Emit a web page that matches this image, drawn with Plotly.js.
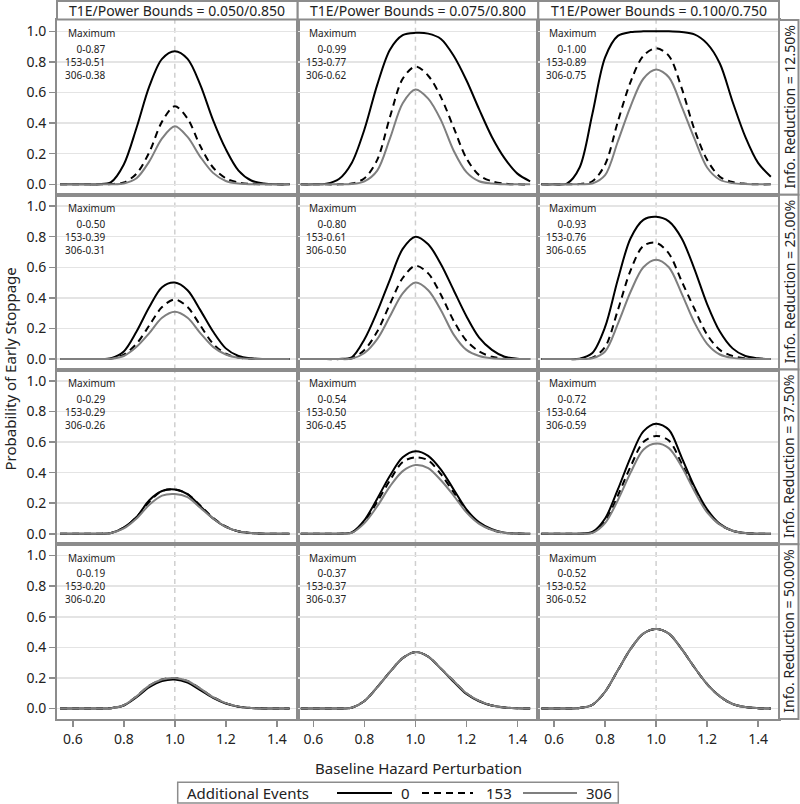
<!DOCTYPE html>
<html>
<head>
<meta charset="utf-8">
<script src="https://cdn.plot.ly/plotly-3.0.1.min.js"></script>
<style>html,body{margin:0;padding:0;background:#fff;}#chart{width:800px;height:804px;}</style>
</head>
<body>
<div id="chart"></div>
<script>
// ---- data ----
const perturbation = [0.55,0.60,0.65,0.70,0.75,0.80,0.85,0.90,0.95,1.00,1.05,1.10,1.15,1.20,1.25,1.30,1.35,1.40,1.45];

const boundsLabels = ['0.050/0.850','0.075/0.800','0.100/0.750'];
const reductionLabels = ['12.50%','25.00%','37.50%','50.00%'];
const eventLabels = ['0','153','306'];

const xTickVals = [0.6,0.8,1.0,1.2,1.4];
const xTickText = ['0.6','0.8','1.0','1.2','1.4'];
const yTickVals = [0,0.2,0.4,0.6,0.8,1.0];
const yTickText = ['0.0','0.2','0.4','0.6','0.8','1.0'];

// Row 1: info reduction 12.50%
const r1c1_0   = [0,0,0,0.001,0.015,0.13,0.37,0.64,0.82,0.87,0.82,0.65,0.42,0.23,0.09,0.025,0.005,0,0];
const r1c1_153 = [0,0,0,0,0.002,0.012,0.07,0.21,0.41,0.51,0.43,0.25,0.11,0.04,0.012,0.003,0,0,0];
const r1c1_306 = [0,0,0,0,0.001,0.006,0.04,0.15,0.30,0.38,0.31,0.18,0.075,0.022,0.005,0.001,0,0,0];
const r1c2_0   = [0,0,0.004,0.035,0.14,0.36,0.65,0.88,0.975,0.99,0.985,0.95,0.84,0.68,0.49,0.31,0.17,0.07,0.02];
const r1c2_153 = [0,0,0,0,0.005,0.04,0.16,0.44,0.69,0.77,0.71,0.57,0.37,0.17,0.06,0.02,0.005,0,0];
const r1c2_306 = [0,0,0,0,0.002,0.02,0.09,0.30,0.53,0.62,0.56,0.42,0.22,0.08,0.02,0.005,0,0,0];
const r1c3_0   = [0,0,0.005,0.11,0.46,0.83,0.97,0.995,1,1,1,0.995,0.98,0.92,0.79,0.54,0.31,0.14,0.05];
const r1c3_153 = [0,0,0,0.002,0.02,0.13,0.41,0.67,0.84,0.89,0.84,0.63,0.36,0.16,0.05,0.015,0.004,0,0];
const r1c3_306 = [0,0,0,0.001,0.006,0.06,0.28,0.51,0.69,0.75,0.70,0.51,0.30,0.11,0.03,0.008,0.002,0,0];
// Row 2: 25.00%
const r2c1_0   = [0,0,0,0.001,0.006,0.05,0.18,0.34,0.47,0.50,0.45,0.32,0.18,0.07,0.02,0.005,0.001,0,0];
const r2c1_153 = [0,0,0,0,0.003,0.03,0.10,0.22,0.34,0.39,0.34,0.22,0.10,0.035,0.01,0.002,0,0,0];
const r2c1_306 = [0,0,0,0,0.002,0.02,0.08,0.17,0.27,0.31,0.27,0.17,0.08,0.03,0.008,0.002,0,0,0];
const r2c2_0   = [0,0,0,0.001,0.012,0.13,0.31,0.52,0.72,0.80,0.75,0.62,0.45,0.28,0.14,0.06,0.015,0.003,0];
const r2c2_153 = [0,0,0,0,0.005,0.06,0.18,0.36,0.53,0.61,0.56,0.42,0.25,0.12,0.05,0.015,0.003,0,0];
const r2c2_306 = [0,0,0,0,0.003,0.04,0.13,0.28,0.43,0.50,0.45,0.32,0.16,0.06,0.02,0.005,0.001,0,0];
const r2c3_0   = [0,0,0,0.003,0.04,0.21,0.52,0.79,0.91,0.93,0.90,0.79,0.59,0.36,0.18,0.07,0.02,0.005,0];
const r2c3_153 = [0,0,0,0.001,0.01,0.08,0.32,0.58,0.74,0.76,0.69,0.51,0.33,0.16,0.06,0.02,0.005,0.001,0];
const r2c3_306 = [0,0,0,0,0.005,0.05,0.23,0.44,0.60,0.65,0.60,0.43,0.24,0.10,0.03,0.008,0.002,0,0];
// Row 3: 37.50%
const r3c1_0   = [0,0,0,0.001,0.006,0.04,0.11,0.22,0.28,0.29,0.26,0.18,0.10,0.045,0.015,0.005,0.001,0,0];
const r3c1_153 = [0,0,0,0.001,0.006,0.04,0.11,0.21,0.28,0.29,0.26,0.185,0.105,0.048,0.017,0.005,0.001,0,0];
const r3c1_306 = [0,0,0,0.001,0.005,0.035,0.10,0.19,0.25,0.26,0.24,0.17,0.10,0.045,0.016,0.005,0.001,0,0];
const r3c2_0   = [0,0,0,0.001,0.01,0.09,0.23,0.38,0.50,0.54,0.51,0.42,0.29,0.16,0.075,0.03,0.008,0.002,0];
const r3c2_153 = [0,0,0,0.001,0.008,0.08,0.21,0.35,0.47,0.50,0.48,0.39,0.27,0.15,0.07,0.025,0.007,0.002,0];
const r3c2_306 = [0,0,0,0.001,0.007,0.07,0.18,0.31,0.41,0.45,0.43,0.35,0.25,0.14,0.065,0.025,0.007,0.002,0];
const r3c3_0   = [0,0,0,0.001,0.012,0.10,0.29,0.50,0.67,0.72,0.68,0.50,0.31,0.16,0.065,0.02,0.005,0.001,0];
const r3c3_153 = [0,0,0,0.001,0.008,0.08,0.25,0.44,0.60,0.64,0.61,0.46,0.29,0.15,0.06,0.02,0.005,0.001,0];
const r3c3_306 = [0,0,0,0.001,0.006,0.07,0.22,0.40,0.55,0.59,0.56,0.44,0.28,0.14,0.06,0.02,0.005,0.001,0];
// Row 4: 50.00%
const r4c1_0   = [0,0,0,0.001,0.003,0.02,0.075,0.14,0.18,0.19,0.17,0.12,0.07,0.033,0.012,0.004,0.001,0,0];
const r4c1_153 = [0,0,0,0.001,0.003,0.022,0.08,0.15,0.19,0.20,0.18,0.13,0.075,0.036,0.013,0.004,0.001,0,0];
const r4c1_306 = [0,0,0,0.001,0.003,0.022,0.08,0.15,0.19,0.20,0.18,0.13,0.075,0.036,0.013,0.004,0.001,0,0];
const r4c2_0   = [0,0,0,0.001,0.006,0.05,0.14,0.24,0.33,0.37,0.34,0.26,0.175,0.095,0.048,0.02,0.007,0.002,0];
const r4c2_153 = [0,0,0,0.001,0.006,0.05,0.14,0.24,0.33,0.37,0.34,0.26,0.18,0.10,0.05,0.02,0.007,0.002,0];
const r4c2_306 = [0,0,0,0.001,0.006,0.05,0.14,0.24,0.33,0.37,0.34,0.26,0.18,0.10,0.05,0.02,0.007,0.002,0];
const r4c3_0   = [0,0,0.001,0.004,0.025,0.11,0.25,0.39,0.49,0.52,0.49,0.39,0.27,0.16,0.08,0.03,0.01,0.003,0];
const r4c3_153 = [0,0,0.001,0.004,0.025,0.11,0.25,0.39,0.49,0.52,0.49,0.39,0.27,0.16,0.08,0.03,0.01,0.003,0];
const r4c3_306 = [0,0,0.001,0.004,0.025,0.11,0.25,0.39,0.49,0.52,0.49,0.39,0.27,0.16,0.08,0.03,0.01,0.003,0];

// maxima shown in each panel (row-major order)
const maxima0   = [0.87,0.99,1.00, 0.50,0.80,0.93, 0.29,0.54,0.72, 0.19,0.37,0.52];
const maxima153 = [0.51,0.77,0.89, 0.39,0.61,0.76, 0.29,0.50,0.64, 0.20,0.37,0.52];
const maxima306 = [0.38,0.62,0.75, 0.31,0.50,0.65, 0.26,0.45,0.59, 0.20,0.37,0.52];

const panelSeries = [
  [r1c1_0,r1c1_153,r1c1_306],[r1c2_0,r1c2_153,r1c2_306],[r1c3_0,r1c3_153,r1c3_306],
  [r2c1_0,r2c1_153,r2c1_306],[r2c2_0,r2c2_153,r2c2_306],[r2c3_0,r2c3_153,r2c3_306],
  [r3c1_0,r3c1_153,r3c1_306],[r3c2_0,r3c2_153,r3c2_306],[r3c3_0,r3c3_153,r3c3_306],
  [r4c1_0,r4c1_153,r4c1_306],[r4c2_0,r4c2_153,r4c2_306],[r4c3_0,r4c3_153,r4c3_306]
];
const maximaLists = [maxima0, maxima153, maxima306];

// ---- layout geometry (pixels) ----
const W = 800, H = 804;
const FONT = 'Noto Sans, DejaVu Sans, sans-serif';
const FRAME = '#8c8c8c';
const TXT = '#222222';
const colX = [[57,297.7],[297.7,538.3],[538.3,779]];
const rowY = [[20,194.75],[194.75,369.5],[369.5,544.25],[544.25,719]];
const px = v => v / W;
const py = v => 1 - v / H;

const lineStyles = [
  {color:'#000000', width:2, dash:'solid'},
  {color:'#000000', width:2, dash:'7px,5px'},
  {color:'#7f7f7f', width:2, dash:'solid'}
];

const traces = [];
const layout = {
  width: W, height: H,
  margin: {l:0, r:0, t:0, b:0},
  paper_bgcolor: '#ffffff', plot_bgcolor: '#ffffff',
  font: {family: FONT, color: TXT},
  showlegend: false,
  shapes: [],
  annotations: []
};

for (let r = 0; r < 4; r++) {
  for (let c = 0; c < 3; c++) {
    const k = r * 3 + c;
    const idx = k + 1;
    const xa = idx === 1 ? 'xaxis' : 'xaxis' + idx;
    const ya = idx === 1 ? 'yaxis' : 'yaxis' + idx;
    const xr = idx === 1 ? 'x' : 'x' + idx;
    const yr = idx === 1 ? 'y' : 'y' + idx;
    layout[xa] = {
      domain: [px(colX[c][0]), px(colX[c][1])], anchor: yr,
      range: [0.538, 1.482], showgrid: false, zeroline: false,
      showline: true, mirror: true, linecolor: FRAME, linewidth: 2,
      tickmode: 'array', tickvals: xTickVals, ticktext: xTickText,
      ticks: r === 3 ? 'outside' : '', ticklen: 6, tickwidth: 1.5, tickcolor: FRAME,
      showticklabels: r === 3, tickfont: {size: 14, color: TXT, family: FONT}
    };
    layout[ya] = {
      domain: [py(rowY[r][1]), py(rowY[r][0])], anchor: xr,
      range: [-0.068, 1.074], showgrid: true, gridcolor: '#e4e4e4', gridwidth: 1.5,
      zeroline: false, showline: true, mirror: true, linecolor: FRAME, linewidth: 2,
      tickmode: 'array', tickvals: yTickVals, ticktext: yTickText,
      ticks: c === 0 ? 'outside' : '', ticklen: 6, tickwidth: 1.5, tickcolor: FRAME,
      showticklabels: c === 0, tickfont: {size: 14, color: TXT, family: FONT}
    };
    // reference line at 1.0
    layout.shapes.push({
      type: 'line', xref: xr, yref: yr + ' domain', x0: 1, x1: 1, y0: 0, y1: 1,
      line: {color: '#cfcfcf', width: 1.5, dash: '5px,4px'}, layer: 'below'
    });
    for (let s = 0; s < 3; s++) {
      traces.push({
        type: 'scatter', mode: 'lines', x: perturbation, y: panelSeries[k][s],
        xaxis: xr, yaxis: yr, name: eventLabels[s], legendgroup: eventLabels[s],
        showlegend: false, hoverinfo: 'skip',
        line: Object.assign({shape: 'spline', smoothing: 0.9}, lineStyles[s])
      });
    }
    // maxima annotations
    const left = colX[c][0], top = rowY[r][0];
    layout.annotations.push({
      xref: 'paper', yref: 'paper', x: px(left + 9), y: py(top + 13.5),
      xanchor: 'left', yanchor: 'middle', showarrow: false, text: 'Maximum',
      font: {size: 10, family: FONT, color: TXT}
    });
    layout.annotations.push({
      xref: 'paper', yref: 'paper', x: px(left + 50), y: py(top + 21),
      xanchor: 'right', yanchor: 'top', align: 'right', showarrow: false, borderpad: 0,
      text: [0,1,2].map(s => eventLabels[s] + '-' + maximaLists[s][k].toFixed(2)).join('<br>'),
      font: {size: 10, family: FONT, color: TXT}
    });
  }
}

// column headers
for (let c = 0; c < 3; c++) {
  layout.shapes.push({
    type: 'rect', xref: 'paper', yref: 'paper',
    x0: px(colX[c][0]), x1: px(colX[c][1]), y0: py(19.5), y1: py(1),
    line: {color: FRAME, width: 2}, fillcolor: '#ffffff'
  });
  layout.annotations.push({
    xref: 'paper', yref: 'paper', x: px((colX[c][0] + colX[c][1]) / 2), y: py(10.5),
    xanchor: 'center', yanchor: 'middle', showarrow: false,
    text: 'T1E/Power Bounds = ' + boundsLabels[c],
    font: {size: 14, family: FONT, color: TXT}
  });
}
// row strips
for (let r = 0; r < 4; r++) {
  layout.shapes.push({
    type: 'rect', xref: 'paper', yref: 'paper',
    x0: px(779), x1: px(798.5), y0: py(rowY[r][1]), y1: py(rowY[r][0]),
    line: {color: FRAME, width: 2}, fillcolor: '#ffffff'
  });
  layout.annotations.push({
    xref: 'paper', yref: 'paper', x: px(789), y: py((rowY[r][0] + rowY[r][1]) / 2),
    xanchor: 'center', yanchor: 'middle', showarrow: false, textangle: -90,
    text: 'Info. Reduction = ' + reductionLabels[r],
    font: {size: 14, family: FONT, color: TXT}
  });
}
// axis titles
layout.annotations.push({
  xref: 'paper', yref: 'paper', x: px(10), y: py(369.5),
  xanchor: 'center', yanchor: 'middle', showarrow: false, textangle: -90,
  text: 'Probability of Early Stoppage', font: {size: 15, family: FONT, color: TXT}
});
layout.annotations.push({
  xref: 'paper', yref: 'paper', x: px(418), y: py(768),
  xanchor: 'center', yanchor: 'middle', showarrow: false,
  text: 'Baseline Hazard Perturbation', font: {size: 15, family: FONT, color: TXT}
});

// legend (drawn as a boxed key under the panels)
const legY = 793;
layout.shapes.push({
  type: 'rect', xref: 'paper', yref: 'paper',
  x0: px(177.7), x1: px(618.3), y0: py(803), y1: py(782.3),
  line: {color: FRAME, width: 1.5}, fillcolor: '#ffffff'
});
layout.annotations.push({
  xref: 'paper', yref: 'paper', x: px(185), y: py(legY),
  xanchor: 'left', yanchor: 'middle', showarrow: false,
  text: 'Additional Events', font: {size: 15, family: FONT, color: TXT}
});
const legSample = [[337,392,399],[422,473,484],[523,577,584]];
for (let s = 0; s < 3; s++) {
  layout.shapes.push({
    type: 'line', xref: 'paper', yref: 'paper',
    x0: px(legSample[s][0]), x1: px(legSample[s][1]), y0: py(legY), y1: py(legY),
    line: {color: lineStyles[s].color, width: lineStyles[s].width, dash: lineStyles[s].dash}
  });
  layout.annotations.push({
    xref: 'paper', yref: 'paper', x: px(legSample[s][2]), y: py(legY),
    xanchor: 'left', yanchor: 'middle', showarrow: false,
    text: eventLabels[s], font: {size: 15, family: FONT, color: TXT}
  });
}

Plotly.newPlot('chart', traces, layout, {displayModeBar: false, staticPlot: true});
</script>
</body>
</html>
